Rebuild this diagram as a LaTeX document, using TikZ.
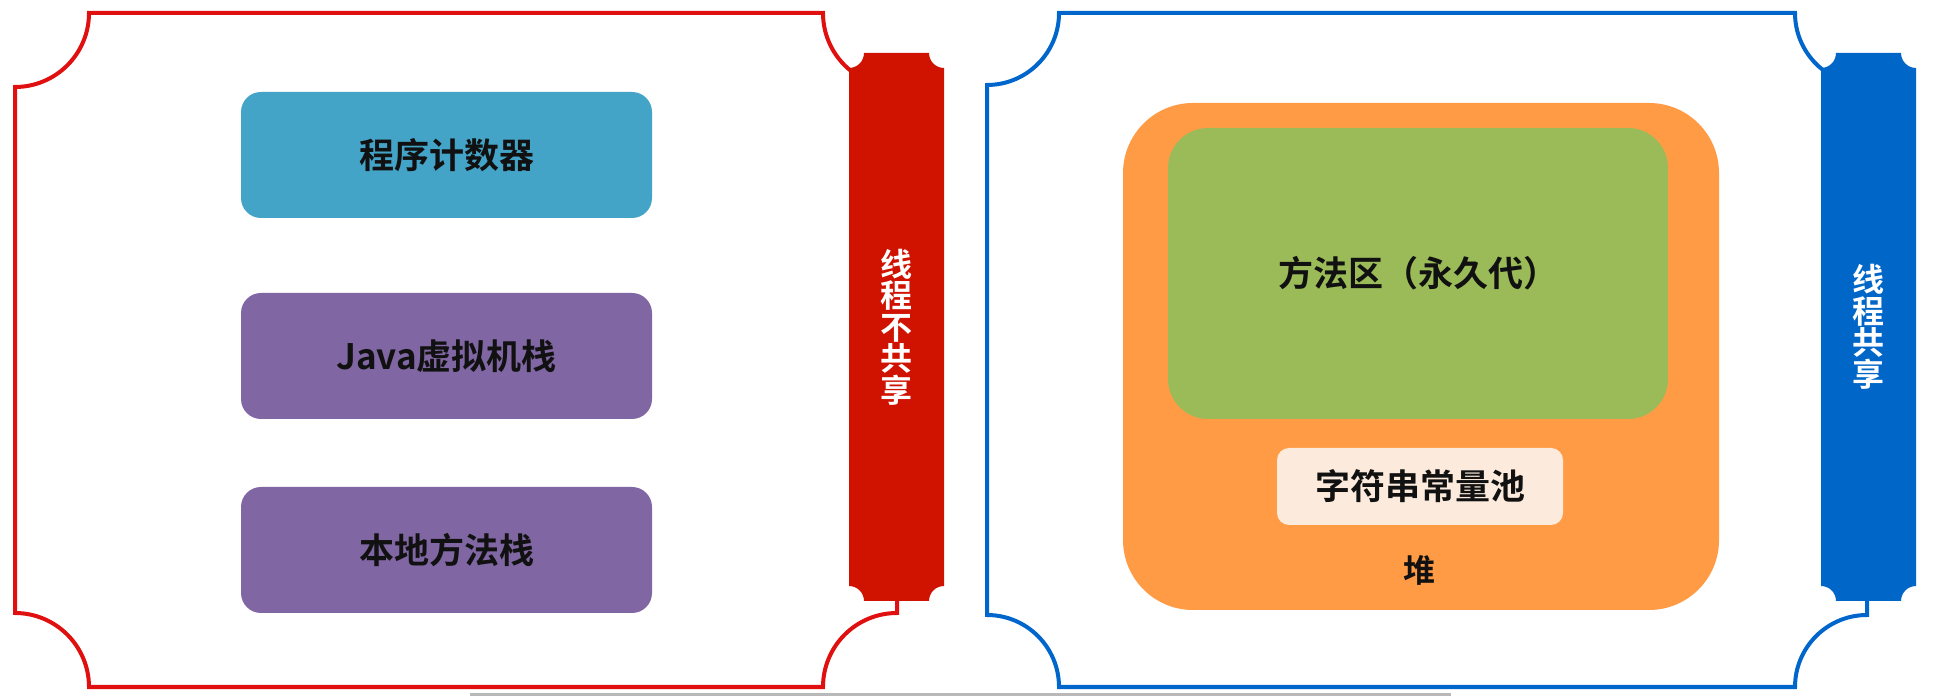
\documentclass[tikz,border=0pt]{standalone}
\usepackage{fontspec}
\newfontfamily\cjk{Noto Sans CJK SC}[BoldFont=* Bold]
\definecolor{frRed}{HTML}{E01010}
\definecolor{barRed}{HTML}{D01200}
\definecolor{frBlue}{HTML}{0066CC}
\definecolor{barBlue}{HTML}{0066C8}
\definecolor{tealBox}{HTML}{44A4C8}
\definecolor{purpleBox}{HTML}{8067A3}
\definecolor{orangeBox}{HTML}{FF9B45}
\definecolor{greenBox}{HTML}{9BBB59}
\definecolor{peachBox}{HTML}{FCEBDD}
\definecolor{txt}{HTML}{111111}
\begin{document}
\begin{tikzpicture}[x=1pt,y=1pt,
  lbl/.style={font=\cjk\bfseries\fontsize{35}{40}\selectfont, text=txt, inner sep=0pt},
  boxL/.style={lbl, rounded corners=20pt, minimum width=411pt, minimum height=126pt},
  vlbl/.style={font=\cjk\bfseries\fontsize{32}{31.5}\selectfont, text=white, align=center, inner sep=0pt},
  frameline/.style={line width=4pt, line join=miter}
]
\useasboundingbox[fill=white] (0,0) rectangle (1938,696);

% ---------- left frame ----------
\draw[frameline, draw=frRed] (89,683) -- (823,683) arc[start angle=180,end angle=270,radius=74pt]
  -- (897,83) arc[start angle=90,end angle=180,radius=74pt]
  -- (89,9) arc[start angle=0,end angle=90,radius=74pt]
  -- (15,609) arc[start angle=270,end angle=360,radius=74pt] -- cycle;
\fill[barRed] (864,643) -- (929,643) arc[start angle=180,end angle=270,radius=15pt]
  -- (944,110) arc[start angle=90,end angle=180,radius=15pt]
  -- (864,95) arc[start angle=0,end angle=90,radius=15pt]
  -- (849,628) arc[start angle=270,end angle=360,radius=15pt] -- cycle;
\node[vlbl] (lbar) at (896.5,369) {线\\程\\不\\共\\享};

\node[boxL, fill=tealBox] (pc) at (446.5,541) {程序计数器};
\node[boxL, fill=purpleBox] (jvm) at (446.5,340) {Java虚拟机栈};
\node[boxL, fill=purpleBox] (native) at (446.5,146) {本地方法栈};

% ---------- right frame ----------
\draw[frameline, draw=frBlue] (1059,683) -- (1795,683) arc[start angle=180,end angle=270,radius=72pt]
  -- (1867,81) arc[start angle=90,end angle=180,radius=72pt]
  -- (1059,9) arc[start angle=0,end angle=90,radius=72pt]
  -- (987,611) arc[start angle=270,end angle=360,radius=72pt] -- cycle;
\fill[barBlue] (1836,643) -- (1901,643) arc[start angle=180,end angle=270,radius=15pt]
  -- (1916,110) arc[start angle=90,end angle=180,radius=15pt]
  -- (1836,95) arc[start angle=0,end angle=90,radius=15pt]
  -- (1821,628) arc[start angle=270,end angle=360,radius=15pt] -- cycle;
\node[vlbl] (rbar) at (1868.5,369) {线\\程\\共\\享};

\node[fill=orangeBox, rounded corners=70pt, minimum width=596pt, minimum height=507pt, inner sep=0pt] (heap) at (1421,339.5) {};
\node[lbl, fill=greenBox, rounded corners=40pt, minimum width=500pt, minimum height=291pt] (method) at (1418,422.5) {方法区（永久代）};
\node[lbl, fill=peachBox, rounded corners=12pt, minimum width=286pt, minimum height=77pt] (pool) at (1420,209.5) {字符串常量池};
\node[lbl, font=\cjk\bfseries\fontsize{32}{36}\selectfont] (heaplbl) at (1419,126) {堆};

% faint line along the bottom edge
\draw[gray!55, line width=2.5pt] (470,1.3) -- (1451,1.3);
\end{tikzpicture}
\end{document}
